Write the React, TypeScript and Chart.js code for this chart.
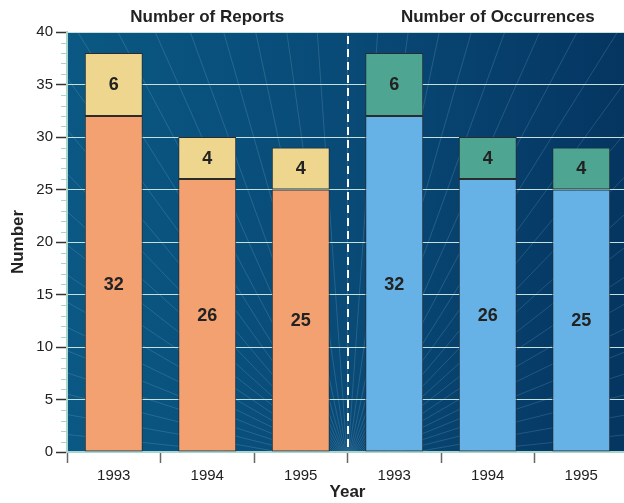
import React, { useEffect, useRef } from "react";
import { Chart, registerables } from "chart.js";

Chart.register(...registerables);

const categories = ["1993", "1994", "1995", "1993", "1994", "1995"];
const reportsBase = [32, 26, 25, null, null, null];
const reportsExtra = [6, 4, 4, null, null, null];
const occurrencesBase = [null, null, null, 32, 26, 25];
const occurrencesExtra = [null, null, null, 6, 4, 4];
const groupTitles = ["Number of Reports", "Number of Occurrences"];
const yMin = 0;
const yMax = 40;
const yStep = 5;

const FONT = "'Liberation Sans', Arial, Helvetica, sans-serif";

const backgroundPlugin = {
  id: "bgPlugin",
  beforeDraw(chart: any) {
    const { ctx, chartArea } = chart;
    if (!chartArea) return;
    const { left, top, right, bottom } = chartArea;
    ctx.save();
    const g = ctx.createLinearGradient(left, 0, right, 0);
    g.addColorStop(0, "#0a5883");
    g.addColorStop(0.5, "#094a77");
    g.addColorStop(1, "#053561");
    ctx.fillStyle = g;
    ctx.fillRect(left, top, right - left, bottom - top);
    // decorative rays
    ctx.beginPath();
    ctx.rect(left, top, right - left, bottom - top);
    ctx.clip();
    const x = chart.scales.x;
    const cx = (x.getPixelForValue(2) + x.getPixelForValue(3)) / 2;
    const cy = bottom + 12;
    ctx.strokeStyle = "rgba(160,205,225,0.28)";
    ctx.lineWidth = 0.7;
    const n = 44;
    for (let i = 0; i <= n; i++) {
      const a = Math.PI + (Math.PI * (i + 0.5)) / (n + 1);
      ctx.beginPath();
      ctx.moveTo(cx, cy);
      ctx.lineTo(cx + Math.cos(a) * 900, cy + Math.sin(a) * 900);
      ctx.stroke();
    }
    ctx.restore();
  },
};

const overlayPlugin = {
  id: "overlayPlugin",
  afterDraw(chart: any) {
    const { ctx, chartArea } = chart;
    const x = chart.scales.x;
    const y = chart.scales.y;
    ctx.save();
    // minor ticks on y axis
    ctx.strokeStyle = "#a9d6cc";
    ctx.lineWidth = 1;
    for (let v = yMin; v <= yMax; v++) {
      if (v % yStep === 0) continue;
      const py = Math.round(y.getPixelForValue(v)) + 0.5;
      ctx.beginPath();
      ctx.moveTo(chartArea.left - 6, py);
      ctx.lineTo(chartArea.left, py);
      ctx.stroke();
    }
    // dashed divider
    const dx = Math.round((x.getPixelForValue(2) + x.getPixelForValue(3)) / 2);
    ctx.strokeStyle = "#ffffff";
    ctx.lineWidth = 2;
    ctx.setLineDash([8, 5]);
    ctx.beginPath();
    ctx.moveTo(dx, chartArea.top + 4);
    ctx.lineTo(dx, chartArea.bottom);
    ctx.stroke();
    ctx.setLineDash([]);
    // value labels
    ctx.fillStyle = "#222222";
    ctx.font = `bold 18px ${FONT}`;
    ctx.textAlign = "center";
    ctx.textBaseline = "middle";
    chart.data.datasets.forEach((ds: any, di: number) => {
      const meta = chart.getDatasetMeta(di);
      meta.data.forEach((el: any, i: number) => {
        const v = ds.data[i];
        if (v === null || v === undefined) return;
        ctx.fillText(String(v), el.x, (el.y + el.base) / 2 + 1);
      });
    });
    // group titles
    ctx.font = `bold 17px ${FONT}`;
    ctx.fillStyle = "#222222";
    ctx.fillText(groupTitles[0], x.getPixelForValue(1), 17);
    ctx.fillText(groupTitles[1], x.getPixelForValue(4) + 10, 17);
    ctx.restore();
  },
};

export default function App() {
  const ref = useRef<HTMLCanvasElement | null>(null);

  useEffect(() => {
    if (!ref.current) return;
    const common = {
      borderColor: "#2b2b2b",
      borderWidth: 1,
      borderSkipped: false,
      barPercentage: 0.62,
      categoryPercentage: 1,
    };
    const chart = new Chart(ref.current, {
      type: "bar",
      data: {
        labels: categories,
        datasets: [
          { ...common, label: "Reports", data: reportsBase, backgroundColor: "#f4a172", stack: "s" },
          { ...common, label: "Reports extra", data: reportsExtra, backgroundColor: "#efd68e", stack: "s" },
          { ...common, label: "Occurrences", data: occurrencesBase, backgroundColor: "#66b1e5", stack: "s" },
          { ...common, label: "Occurrences extra", data: occurrencesExtra, backgroundColor: "#4ea591", stack: "s" },
        ] as any,
      },
      options: {
        responsive: false,
        animation: false,
        devicePixelRatio: 1,
        layout: { padding: { top: 32, right: 0, left: 0, bottom: 0 } },
        plugins: {
          legend: { display: false },
          tooltip: { enabled: false },
          title: { display: false },
        },
        scales: {
          x: {
            stacked: true,
            offset: true,
            afterFit(scale: any) {
              scale.height = 51;
            },
            grid: {
              display: true,
              drawOnChartArea: false,
              drawTicks: true,
              tickLength: 11,
              tickColor: "#666666",
              tickWidth: 1.5,
              offset: true,
            },
            border: { display: true, color: "#a9d6cc", width: 2 },
            ticks: {
              color: "#222222",
              padding: 4,
              font: { family: FONT, size: 15 },
              maxRotation: 0,
            },
            title: {
              display: true,
              text: "Year",
              color: "#222222",
              font: { family: FONT, size: 17, weight: "bold" },
              padding: { top: 0, bottom: 0 },
            },
          },
          y: {
            stacked: true,
            min: yMin,
            max: yMax,
            afterFit(scale: any) {
              scale.width = 67;
            },
            grid: {
              color: "#c4e2da",
              lineWidth: 1,
              drawTicks: true,
              tickLength: 11,
              tickColor: "#333333",
              tickWidth: 1.5,
            },
            border: { display: true, color: "#a9d6cc", width: 2 },
            ticks: {
              stepSize: yStep,
              color: "#222222",
              padding: 3,
              font: { family: FONT, size: 15 },
            },
            title: {
              display: true,
              text: "Number",
              color: "#222222",
              font: { family: FONT, size: 17, weight: "bold" },
              padding: { top: 8, bottom: 0 },
            },
          },
        },
      } as any,
      plugins: [backgroundPlugin, overlayPlugin],
    });
    return () => chart.destroy();
  }, []);

  return (
    <div
      style={{
        position: "absolute",
        left: 0,
        top: 0,
        width: 624,
        height: 503,
        overflow: "hidden",
        background: "#ffffff",
      }}
    >
      <canvas ref={ref} width={628} height={503} style={{ display: "block" }} />
    </div>
  );
}
